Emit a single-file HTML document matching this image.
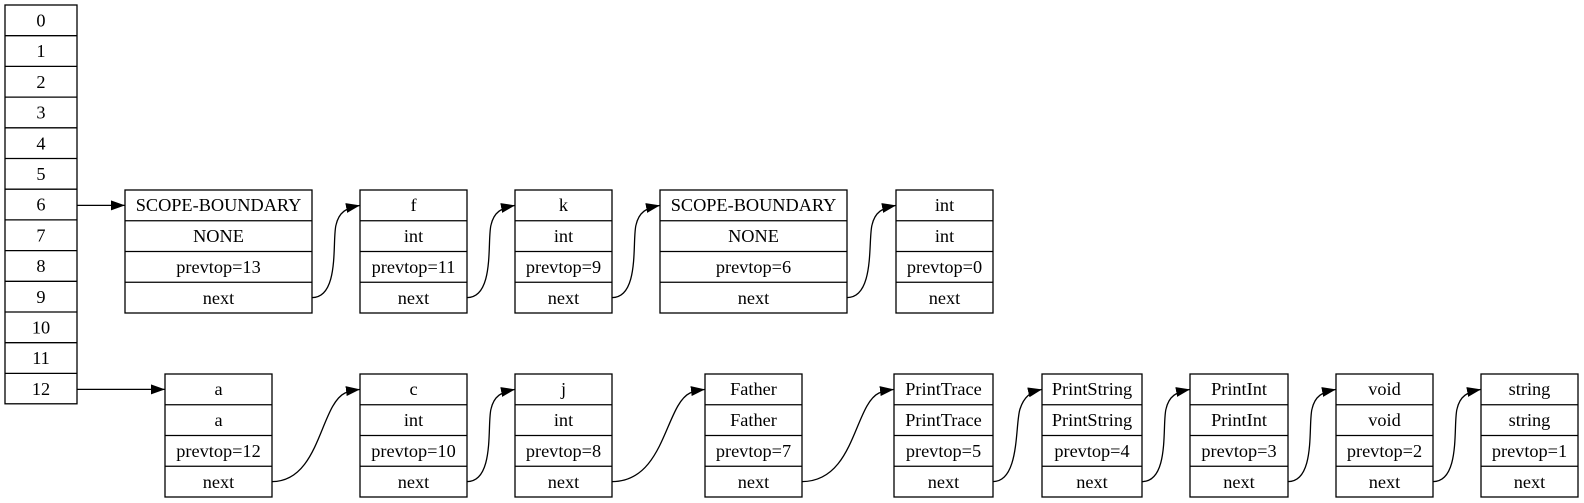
<!DOCTYPE html>
<html><head><meta charset="utf-8"><style>
html,body{margin:0;padding:0;background:#fff;}
svg{display:block;}
text{font-family:"Liberation Serif",serif;font-size:18.3px;text-anchor:middle;fill:#000;}
rect,line{stroke:#000;stroke-width:1.3;fill:none;}
path.e{stroke:#000;stroke-width:1.3;fill:none;}
</style></head><body>
<svg width="1584" height="503" viewBox="0 0 1584 503" xmlns="http://www.w3.org/2000/svg">
<defs><marker id="ah" markerWidth="15" markerHeight="10" refX="14" refY="5" orient="auto" markerUnits="userSpaceOnUse"><path d="M0,0 L14,5 L0,10 z" fill="#000"/></marker></defs>
<rect x="5" y="5" width="72" height="398.8"/>
<line x1="5" y1="35.7" x2="77" y2="35.7"/><line x1="5" y1="66.4" x2="77" y2="66.4"/><line x1="5" y1="97.1" x2="77" y2="97.1"/><line x1="5" y1="127.8" x2="77" y2="127.8"/><line x1="5" y1="158.5" x2="77" y2="158.5"/><line x1="5" y1="189.2" x2="77" y2="189.2"/><line x1="5" y1="219.9" x2="77" y2="219.9"/><line x1="5" y1="250.6" x2="77" y2="250.6"/><line x1="5" y1="281.3" x2="77" y2="281.3"/><line x1="5" y1="312" x2="77" y2="312"/><line x1="5" y1="342.7" x2="77" y2="342.7"/><line x1="5" y1="373.4" x2="77" y2="373.4"/>
<text x="41" y="26.5">0</text><text x="41" y="57.2">1</text><text x="41" y="87.9">2</text><text x="41" y="118.6">3</text><text x="41" y="149.3">4</text><text x="41" y="180">5</text><text x="41" y="210.7">6</text><text x="41" y="241.4">7</text><text x="41" y="272.1">8</text><text x="41" y="302.8">9</text><text x="41" y="333.5">10</text><text x="41" y="364.2">11</text><text x="41" y="394.9">12</text>

<g>
<rect x="125" y="190" width="187" height="123"/><line x1="125" y1="220.75" x2="312" y2="220.75"/><line x1="125" y1="251.5" x2="312" y2="251.5"/><line x1="125" y1="282.25" x2="312" y2="282.25"/>
<text x="218.5" y="211">SCOPE-BOUNDARY</text><text x="218.5" y="242">NONE</text><text x="218.5" y="273">prevtop=13</text><text x="218.5" y="304">next</text>

<rect x="360" y="190" width="107" height="123"/><line x1="360" y1="220.75" x2="467" y2="220.75"/><line x1="360" y1="251.5" x2="467" y2="251.5"/><line x1="360" y1="282.25" x2="467" y2="282.25"/>
<text x="413.5" y="211">f</text><text x="413.5" y="242">int</text><text x="413.5" y="273">prevtop=11</text><text x="413.5" y="304">next</text>

<rect x="515" y="190" width="97" height="123"/><line x1="515" y1="220.75" x2="612" y2="220.75"/><line x1="515" y1="251.5" x2="612" y2="251.5"/><line x1="515" y1="282.25" x2="612" y2="282.25"/>
<text x="563.5" y="211">k</text><text x="563.5" y="242">int</text><text x="563.5" y="273">prevtop=9</text><text x="563.5" y="304">next</text>

<rect x="660" y="190" width="187" height="123"/><line x1="660" y1="220.75" x2="847" y2="220.75"/><line x1="660" y1="251.5" x2="847" y2="251.5"/><line x1="660" y1="282.25" x2="847" y2="282.25"/>
<text x="753.5" y="211">SCOPE-BOUNDARY</text><text x="753.5" y="242">NONE</text><text x="753.5" y="273">prevtop=6</text><text x="753.5" y="304">next</text>

<rect x="896" y="190" width="97" height="123"/><line x1="896" y1="220.75" x2="993" y2="220.75"/><line x1="896" y1="251.5" x2="993" y2="251.5"/><line x1="896" y1="282.25" x2="993" y2="282.25"/>
<text x="944.5" y="211">int</text><text x="944.5" y="242">int</text><text x="944.5" y="273">prevtop=0</text><text x="944.5" y="304">next</text>
</g>

<g>
<rect x="165" y="374" width="107" height="123"/><line x1="165" y1="404.75" x2="272" y2="404.75"/><line x1="165" y1="435.5" x2="272" y2="435.5"/><line x1="165" y1="466.25" x2="272" y2="466.25"/>
<text x="218.5" y="395">a</text><text x="218.5" y="426">a</text><text x="218.5" y="457">prevtop=12</text><text x="218.5" y="488">next</text>

<rect x="360" y="374" width="107" height="123"/><line x1="360" y1="404.75" x2="467" y2="404.75"/><line x1="360" y1="435.5" x2="467" y2="435.5"/><line x1="360" y1="466.25" x2="467" y2="466.25"/>
<text x="413.5" y="395">c</text><text x="413.5" y="426">int</text><text x="413.5" y="457">prevtop=10</text><text x="413.5" y="488">next</text>

<rect x="515" y="374" width="97" height="123"/><line x1="515" y1="404.75" x2="612" y2="404.75"/><line x1="515" y1="435.5" x2="612" y2="435.5"/><line x1="515" y1="466.25" x2="612" y2="466.25"/>
<text x="563.5" y="395">j</text><text x="563.5" y="426">int</text><text x="563.5" y="457">prevtop=8</text><text x="563.5" y="488">next</text>

<rect x="705" y="374" width="97" height="123"/><line x1="705" y1="404.75" x2="802" y2="404.75"/><line x1="705" y1="435.5" x2="802" y2="435.5"/><line x1="705" y1="466.25" x2="802" y2="466.25"/>
<text x="753.5" y="395">Father</text><text x="753.5" y="426">Father</text><text x="753.5" y="457">prevtop=7</text><text x="753.5" y="488">next</text>

<rect x="894" y="374" width="99" height="123"/><line x1="894" y1="404.75" x2="993" y2="404.75"/><line x1="894" y1="435.5" x2="993" y2="435.5"/><line x1="894" y1="466.25" x2="993" y2="466.25"/>
<text x="943.5" y="395">PrintTrace</text><text x="943.5" y="426">PrintTrace</text><text x="943.5" y="457">prevtop=5</text><text x="943.5" y="488">next</text>

<rect x="1042" y="374" width="100" height="123"/><line x1="1042" y1="404.75" x2="1142" y2="404.75"/><line x1="1042" y1="435.5" x2="1142" y2="435.5"/><line x1="1042" y1="466.25" x2="1142" y2="466.25"/>
<text x="1092" y="395">PrintString</text><text x="1092" y="426">PrintString</text><text x="1092" y="457">prevtop=4</text><text x="1092" y="488">next</text>

<rect x="1190" y="374" width="98" height="123"/><line x1="1190" y1="404.75" x2="1288" y2="404.75"/><line x1="1190" y1="435.5" x2="1288" y2="435.5"/><line x1="1190" y1="466.25" x2="1288" y2="466.25"/>
<text x="1239" y="395">PrintInt</text><text x="1239" y="426">PrintInt</text><text x="1239" y="457">prevtop=3</text><text x="1239" y="488">next</text>

<rect x="1336" y="374" width="97" height="123"/><line x1="1336" y1="404.75" x2="1433" y2="404.75"/><line x1="1336" y1="435.5" x2="1433" y2="435.5"/><line x1="1336" y1="466.25" x2="1433" y2="466.25"/>
<text x="1384.5" y="395">void</text><text x="1384.5" y="426">void</text><text x="1384.5" y="457">prevtop=2</text><text x="1384.5" y="488">next</text>

<rect x="1481" y="374" width="97" height="123"/><line x1="1481" y1="404.75" x2="1578" y2="404.75"/><line x1="1481" y1="435.5" x2="1578" y2="435.5"/><line x1="1481" y1="466.25" x2="1578" y2="466.25"/>
<text x="1529.5" y="395">string</text><text x="1529.5" y="426">string</text><text x="1529.5" y="457">prevtop=1</text><text x="1529.5" y="488">next</text>
</g>

<path class="e" d="M77,205.4 L125,205.4" marker-end="url(#ah)"/>
<path class="e" d="M77,389.4 L165,389.4" marker-end="url(#ah)"/>

<path class="e" d="M312,297.6 C340,297.6 332,240 336,225 C339,212 346,208 360,205.4" marker-end="url(#ah)"/>
<path class="e" d="M467,297.6 C495,297.6 487,240 491,225 C494,212 501,208 515,205.4" marker-end="url(#ah)"/>
<path class="e" d="M612,297.6 C640,297.6 632,240 636,225 C639,212 646,208 660,205.4" marker-end="url(#ah)"/>
<path class="e" d="M847,297.6 C875,297.6 868,240 872,225 C875,212 882,208 896,205.4" marker-end="url(#ah)"/>

<path class="e" d="M272,481.6 C320,481.6 320,405 345,393 C350,391 355,390 360,389.4" marker-end="url(#ah)"/>
<path class="e" d="M467,481.6 C495,481.6 487,424 491,409 C494,396 501,392 515,389.4" marker-end="url(#ah)"/>
<path class="e" d="M612,481.6 C665,481.6 665,405 690,393 C695,391 700,390 705,389.4" marker-end="url(#ah)"/>
<path class="e" d="M802,481.6 C855,481.6 854,405 879,393 C884,391 889,390 894,389.4" marker-end="url(#ah)"/>
<path class="e" d="M993,481.6 C1020,481.6 1015,424 1020,409 C1024,397 1030,392 1042,389.4" marker-end="url(#ah)"/>
<path class="e" d="M1142,481.6 C1170,481.6 1162,424 1166,409 C1169,396 1176,392 1190,389.4" marker-end="url(#ah)"/>
<path class="e" d="M1288,481.6 C1316,481.6 1308,424 1312,409 C1315,396 1322,392 1336,389.4" marker-end="url(#ah)"/>
<path class="e" d="M1433,481.6 C1461,481.6 1453,424 1457,409 C1460,396 1467,392 1481,389.4" marker-end="url(#ah)"/>
</svg>
</body></html>
